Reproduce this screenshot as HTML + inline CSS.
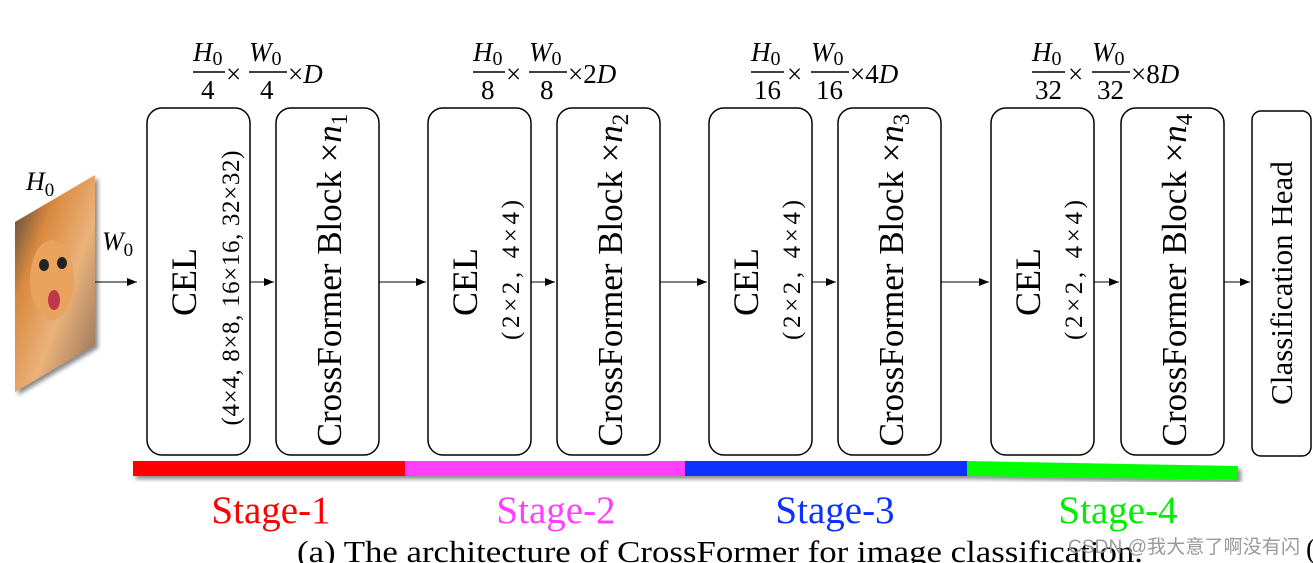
<!DOCTYPE html>
<html><head><meta charset="utf-8"><style>
html,body{margin:0;padding:0;background:#fff;}
svg{display:block;}
svg text{font-family:"Liberation Serif",serif !important;}
svg text.wm{font-family:"Liberation Sans","Noto Sans CJK SC",sans-serif !important;}
</style></head><body>
<svg width="1313" height="563" viewBox="0 0 1313 563" xmlns="http://www.w3.org/2000/svg" font-family="Liberation Serif, serif">
<defs>
<marker id="ah" markerWidth="10" markerHeight="8" refX="10" refY="4" orient="auto" markerUnits="userSpaceOnUse">
<path d="M0,0 L10,4 L0,8 z" fill="#000"/></marker>
<linearGradient id="cat" x1="0" y1="0" x2="1" y2="1">
<stop offset="0" stop-color="#3a3a40"/><stop offset="0.3" stop-color="#d9893e"/><stop offset="0.6" stop-color="#eab27a"/><stop offset="1" stop-color="#8a6b55"/></linearGradient>
<filter id="sh"><feDropShadow dx="3" dy="3" stdDeviation="2" flood-color="#888"/></filter>
</defs>

<polygon points="15,222 95,175 95,345 15,392" fill="url(#cat)" filter="url(#sh)"/>
<ellipse cx="52" cy="280" rx="22" ry="40" fill="#e9a35e"/>
<ellipse cx="44" cy="265" rx="5" ry="6" fill="#222"/>
<ellipse cx="62" cy="263" rx="5" ry="6" fill="#222"/>
<ellipse cx="54" cy="300" rx="6" ry="10" fill="#c0364a"/>
<text x="26" y="190" font-size="26" font-style="italic">H<tspan font-size="19" font-style="normal" dy="6">0</tspan></text>
<text x="102" y="250" font-size="26" font-style="italic">W<tspan font-size="19" font-style="normal" dy="6">0</tspan></text>

<g fill="#fff" stroke="#000" stroke-width="1.5">
<rect x="147" y="108" width="103" height="347" rx="15"/>
<rect x="276" y="108" width="103" height="347" rx="15"/>
<rect x="428" y="108" width="103" height="347" rx="15"/>
<rect x="557" y="108" width="103" height="347" rx="15"/>
<rect x="709" y="108" width="103" height="347" rx="15"/>
<rect x="838" y="108" width="103" height="347" rx="15"/>
<rect x="991" y="108" width="103" height="347" rx="15"/>
<rect x="1121" y="108" width="103" height="347" rx="15"/>
<rect x="1252" y="111" width="59" height="345" rx="9"/>
</g>

<g stroke="#000" stroke-width="1" marker-end="url(#ah)">
<line x1="95" y1="282" x2="137" y2="282"/>
<line x1="250" y1="282" x2="274" y2="282"/>
<line x1="379" y1="282" x2="426" y2="282"/>
<line x1="531" y1="282" x2="555" y2="282"/>
<line x1="660" y1="282" x2="707" y2="282"/>
<line x1="812" y1="282" x2="836" y2="282"/>
<line x1="941" y1="282" x2="989" y2="282"/>
<line x1="1094" y1="282" x2="1119" y2="282"/>
<line x1="1224" y1="282" x2="1250" y2="282"/>
</g>

<g font-size="36" text-anchor="middle">
<text transform="translate(196,282) rotate(-90)">CEL</text>
<text transform="translate(477,282) rotate(-90)">CEL</text>
<text transform="translate(758,282) rotate(-90)">CEL</text>
<text transform="translate(1040,282) rotate(-90)">CEL</text>
</g>
<g font-size="35" text-anchor="middle">
<text transform="translate(341,280) rotate(-90)">CrossFormer Block ×<tspan font-style="italic">n</tspan><tspan font-size="23" dy="6">1</tspan></text>
<text transform="translate(622,280) rotate(-90)">CrossFormer Block ×<tspan font-style="italic">n</tspan><tspan font-size="23" dy="6">2</tspan></text>
<text transform="translate(903,280) rotate(-90)">CrossFormer Block ×<tspan font-style="italic">n</tspan><tspan font-size="23" dy="6">3</tspan></text>
<text transform="translate(1186,280) rotate(-90)">CrossFormer Block ×<tspan font-style="italic">n</tspan><tspan font-size="23" dy="6">4</tspan></text>
<text transform="translate(1292,283) rotate(-90)" font-size="31">Classification Head</text>
</g>
<g font-size="25" text-anchor="middle">
<text transform="translate(239,288) rotate(-90)" textLength="275">(4×4, 8×8, 16×16, 32×32)</text>
<text transform="translate(519,270) rotate(-90)" textLength="140">(2×2, 4×4)</text>
<text transform="translate(800,270) rotate(-90)" textLength="140">(2×2, 4×4)</text>
<text transform="translate(1082,270) rotate(-90)" textLength="140">(2×2, 4×4)</text>
</g>

<g font-size="27">
<g transform="translate(193,0)">
<text x="0" y="61" font-style="italic">H<tspan font-style="normal" font-size="20" dy="4">0</tspan></text>
<line x1="0" y1="72" x2="32" y2="72" stroke="#000" stroke-width="1.5"/>
<text x="8" y="99">4</text>
<text x="33" y="83">×</text>
<text x="56" y="61" font-style="italic">W<tspan font-style="normal" font-size="20" dy="4">0</tspan></text>
<line x1="56" y1="72" x2="94" y2="72" stroke="#000" stroke-width="1.5"/>
<text x="67" y="99">4</text>
<text x="95" y="83">×<tspan font-style="italic">D</tspan></text>
</g>
<g transform="translate(473,0)">
<text x="0" y="61" font-style="italic">H<tspan font-style="normal" font-size="20" dy="4">0</tspan></text>
<line x1="0" y1="72" x2="32" y2="72" stroke="#000" stroke-width="1.5"/>
<text x="8" y="99">8</text>
<text x="33" y="83">×</text>
<text x="56" y="61" font-style="italic">W<tspan font-style="normal" font-size="20" dy="4">0</tspan></text>
<line x1="56" y1="72" x2="94" y2="72" stroke="#000" stroke-width="1.5"/>
<text x="67" y="99">8</text>
<text x="95" y="83">×2<tspan font-style="italic">D</tspan></text>
</g>
<g transform="translate(751,0)">
<text x="0" y="61" font-style="italic">H<tspan font-style="normal" font-size="20" dy="4">0</tspan></text>
<line x1="0" y1="72" x2="33" y2="72" stroke="#000" stroke-width="1.5"/>
<text x="3" y="99">16</text>
<text x="36" y="83">×</text>
<text x="60" y="61" font-style="italic">W<tspan font-style="normal" font-size="20" dy="4">0</tspan></text>
<line x1="60" y1="72" x2="98" y2="72" stroke="#000" stroke-width="1.5"/>
<text x="65" y="99">16</text>
<text x="99" y="83">×4<tspan font-style="italic">D</tspan></text>
</g>
<g transform="translate(1032,0)">
<text x="0" y="61" font-style="italic">H<tspan font-style="normal" font-size="20" dy="4">0</tspan></text>
<line x1="0" y1="72" x2="33" y2="72" stroke="#000" stroke-width="1.5"/>
<text x="3" y="99">32</text>
<text x="36" y="83">×</text>
<text x="60" y="61" font-style="italic">W<tspan font-style="normal" font-size="20" dy="4">0</tspan></text>
<line x1="60" y1="72" x2="98" y2="72" stroke="#000" stroke-width="1.5"/>
<text x="65" y="99">32</text>
<text x="99" y="83">×8<tspan font-style="italic">D</tspan></text>
</g>
</g>

<g filter="url(#sh)">
<rect x="133" y="461" width="272" height="15" fill="#ff0000"/>
<rect x="405" y="461" width="280" height="15" fill="#ff40ff"/>
<rect x="685" y="461" width="282" height="15" fill="#0a32ff"/>
<polygon points="967,461 1238,466 1238,480 967,476" fill="#00ff00"/>
</g>

<g font-size="39" text-anchor="middle">
<text x="271" y="523" fill="#ff0000">Stage-1</text>
<text x="556" y="523" fill="#ff40ff">Stage-2</text>
<text x="835" y="523" fill="#0a32ff">Stage-3</text>
<text x="1118" y="523" fill="#00ee00">Stage-4</text>
</g>
<text x="297" y="562" font-size="31" textLength="846" lengthAdjust="spacingAndGlyphs">(a) The architecture of CrossFormer for image classification.</text>
<text class="wm" x="1068" y="553" font-size="19" fill="#999" textLength="232">CSDN @我大意了啊没有闪</text>
<text x="1306" y="558" font-size="28">(</text>
</svg>
</body></html>
